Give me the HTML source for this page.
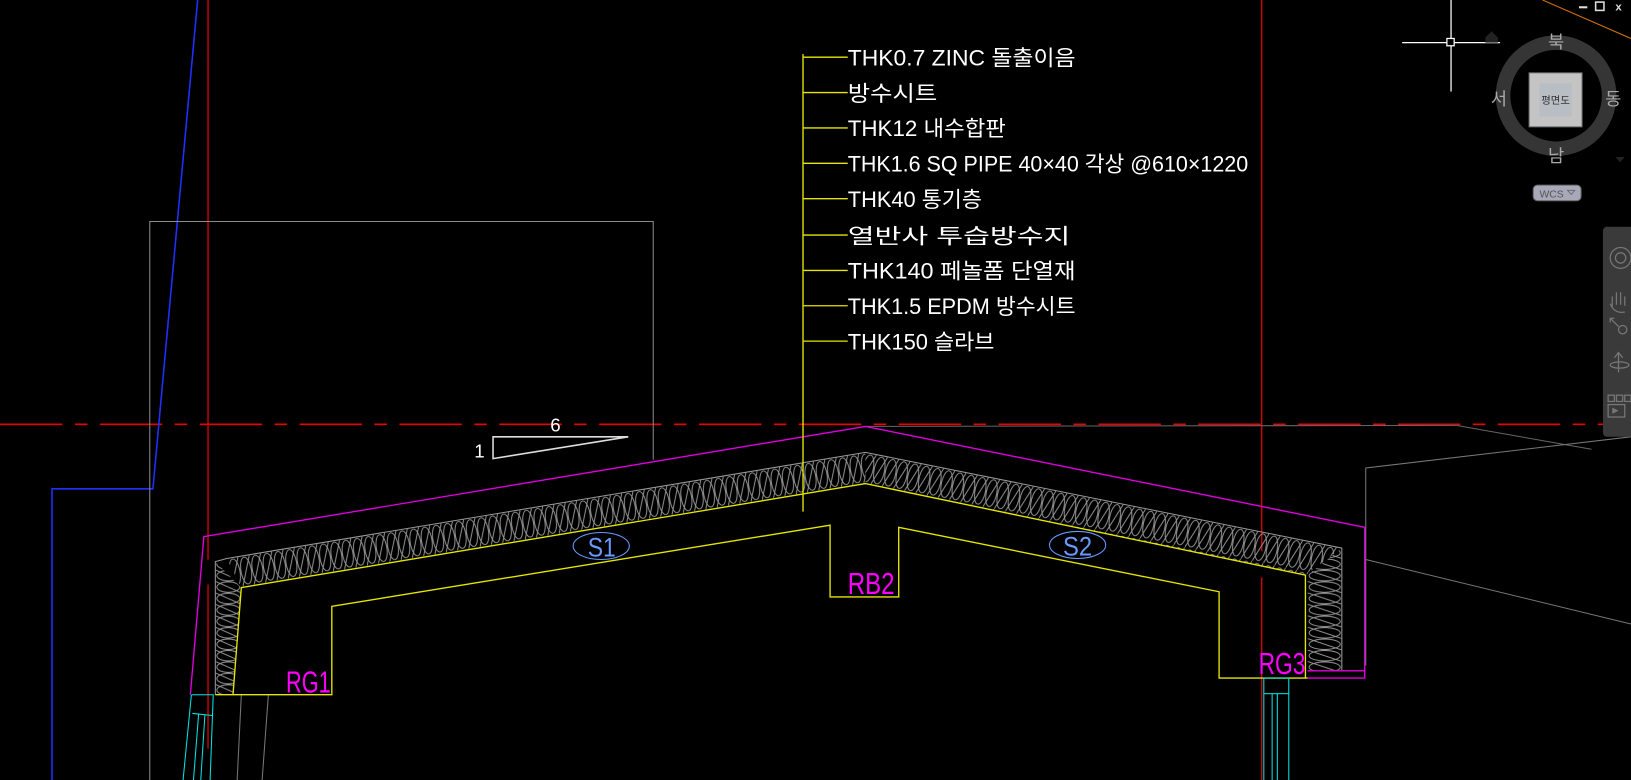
<!DOCTYPE html>
<html><head><meta charset="utf-8"><style>
html,body{margin:0;padding:0;background:#000;overflow:hidden}
svg{display:block}
text{font-family:"Liberation Sans","Noto Sans CJK KR",sans-serif}
</style></head><body>
<svg width="1631" height="780" viewBox="0 0 1568 750" preserveAspectRatio="none" xmlns="http://www.w3.org/2000/svg">
<defs>
<pattern id="insL" width="11" height="29" patternUnits="userSpaceOnUse" patternTransform="translate(218,537) rotate(-9.43)">
<g fill="none" stroke="#9a9a9a" stroke-width="0.9"><ellipse cx="5.5" cy="14.5" rx="5" ry="13"/><line x1="0" y1="29" x2="11" y2="0"/></g></pattern>
<pattern id="insR" width="11" height="29" patternUnits="userSpaceOnUse" patternTransform="translate(832,435) rotate(11.36)">
<g fill="none" stroke="#9a9a9a" stroke-width="0.9"><ellipse cx="5.5" cy="14.5" rx="5" ry="13"/><line x1="0" y1="29" x2="11" y2="0"/></g></pattern>
<pattern id="insV" width="25" height="11" patternUnits="userSpaceOnUse" patternTransform="translate(207,537)">
<g fill="none" stroke="#9a9a9a" stroke-width="0.9"><ellipse cx="12.5" cy="5.5" rx="11" ry="5"/><line x1="0" y1="0" x2="25" y2="11"/></g></pattern>
<pattern id="insV2" width="33" height="11" patternUnits="userSpaceOnUse" patternTransform="translate(1257,537)">
<g fill="none" stroke="#9a9a9a" stroke-width="0.9"><ellipse cx="16.5" cy="5.5" rx="15" ry="5"/><line x1="0" y1="0" x2="33" y2="11"/></g></pattern>
</defs>

<!-- red center lines -->
<line x1="0" y1="408" x2="1568" y2="408" stroke="#e00" stroke-width="1.5" stroke-dasharray="60,12,12,12"/>
<line x1="200" y1="0" x2="200" y2="538" stroke="#e00" stroke-width="1.2"/>
<line x1="200" y1="562" x2="200" y2="720" stroke="#e00" stroke-width="1.2"/>
<line x1="1213" y1="0" x2="1213" y2="530" stroke="#e00" stroke-width="1.2"/>
<line x1="1213" y1="555" x2="1213" y2="750" stroke="#e00" stroke-width="1.2"/>

<!-- blue line -->
<polyline points="190,0 147,470 50,470 50,750" fill="none" stroke="#2030ff" stroke-width="1.5"/>

<!-- gray rectangle -->
<polyline points="144,750 144,213 628,213 628,442" fill="none" stroke="#8a8a8a" stroke-width="1"/>
<line x1="832" y1="410" x2="1400" y2="409" stroke="#666" stroke-width="1"/>
<line x1="1400" y1="409" x2="1530" y2="432" stroke="#666" stroke-width="1"/>
<polyline points="1313,640 1313,450 1568,420" fill="none" stroke="#777" stroke-width="1"/>
<line x1="1313" y1="538" x2="1568" y2="600" stroke="#777" stroke-width="1"/>
<line x1="232" y1="668" x2="228" y2="750" stroke="#777" stroke-width="1"/>
<line x1="258" y1="668" x2="252" y2="750" stroke="#777" stroke-width="1"/>

<!-- slope symbol -->
<polygon points="474,420 604,420 474,441" fill="none" stroke="#ddd" stroke-width="1.5"/>
<text x="529" y="415" fill="#fff" font-size="18">6</text>
<text x="456" y="440" fill="#fff" font-size="18">1</text>

<!-- insulation -->
<polygon points="218,537 832,435 832,465 232,565" fill="url(#insL)"/>
<polygon points="832,435 1290,527 1255,553 832,465" fill="url(#insR)"/>
<polygon points="207,540 232,565 224,668 207,668" fill="url(#insV)"/>
<polygon points="1257,553 1290,527 1290,645 1257,645" fill="url(#insV2)"/>
<polyline points="207,668 207,540 218,537 832,435 1290,527 1290,645" fill="none" stroke="#9a9a9a" stroke-width="1"/>

<!-- magenta outline -->
<polyline points="183,668 196,516 832,410 1312,507 1312,652 1257,652" fill="none" stroke="#e000e0" stroke-width="1.3"/>
<line x1="1257" y1="645" x2="1312" y2="645" stroke="#e000e0" stroke-width="1.3"/>

<!-- yellow slab -->
<polyline points="224,668 232,565 832,465 1255,553 1255,652" fill="none" stroke="#e6e600" stroke-width="1.3"/>
<polyline points="207,668 319,668 319,583 798,505 798,574 864,574 864,507 1172,569 1172,652 1257,652" fill="none" stroke="#e6e600" stroke-width="1.3"/>

<!-- labels -->
<text x="275" y="666" fill="#f0f" font-size="29" textLength="43" lengthAdjust="spacingAndGlyphs">RG1</text>
<text x="815" y="571" fill="#f0f" font-size="29" textLength="45" lengthAdjust="spacingAndGlyphs">RB2</text>
<text x="1210" y="648" fill="#f0f" font-size="29" textLength="45" lengthAdjust="spacingAndGlyphs">RG3</text>
<ellipse cx="578" cy="525" rx="27" ry="13" fill="none" stroke="#6a9aff" stroke-width="1"/>
<text x="565" y="535" fill="#6a9aff" font-size="26" textLength="27" lengthAdjust="spacingAndGlyphs">S1</text>
<ellipse cx="1036" cy="524" rx="27" ry="13" fill="none" stroke="#6a9aff" stroke-width="1"/>
<text x="1022" y="534" fill="#6a9aff" font-size="26" textLength="28" lengthAdjust="spacingAndGlyphs">S2</text>

<!-- cyan windows -->
<g fill="none" stroke="#00e5e5" stroke-width="1">
<polyline points="184,668 205,668 202,750"/><line x1="184" y1="668" x2="176" y2="750"/>
<line x1="185" y1="686" x2="204" y2="688"/><line x1="191" y1="686" x2="186" y2="750"/><line x1="197" y1="687" x2="193" y2="750"/>
<rect x="1215" y="652" width="24" height="15"/><line x1="1215" y1="667" x2="1215" y2="750"/><line x1="1239" y1="667" x2="1239" y2="750"/>
<line x1="1223" y1="667" x2="1223" y2="750"/><line x1="1228" y1="667" x2="1228" y2="750"/>
</g>

<!-- leader -->
<g stroke="#e6e600" stroke-width="1.3">
<line x1="772" y1="52" x2="772" y2="492"/>
<line x1="772" y1="55" x2="815" y2="55"/><line x1="772" y1="89" x2="815" y2="89"/>
<line x1="772" y1="123" x2="815" y2="123"/><line x1="772" y1="157" x2="815" y2="157"/>
<line x1="772" y1="191" x2="815" y2="191"/><line x1="772" y1="226" x2="815" y2="226"/>
<line x1="772" y1="260" x2="815" y2="260"/><line x1="772" y1="294" x2="815" y2="294"/>
<line x1="772" y1="328" x2="815" y2="328"/>
</g>
<g fill="#fff" font-size="21">
<text x="815" y="63" textLength="219" lengthAdjust="spacingAndGlyphs">THK0.7 ZINC 돌출이음</text>
<text x="815" y="97" textLength="86" lengthAdjust="spacingAndGlyphs">방수시트</text>
<text x="815" y="131" textLength="152" lengthAdjust="spacingAndGlyphs">THK12 내수합판</text>
<text x="815" y="165" textLength="385" lengthAdjust="spacingAndGlyphs">THK1.6 SQ PIPE 40×40 각상 @610×1220</text>
<text x="815" y="199" textLength="129" lengthAdjust="spacingAndGlyphs">THK40 통기층</text>
<text x="815" y="234" font-size="20" textLength="214" lengthAdjust="spacingAndGlyphs">열반사 투습방수지</text>
<text x="815" y="268" textLength="219" lengthAdjust="spacingAndGlyphs">THK140 페놀폼 단열재</text>
<text x="815" y="302" textLength="219" lengthAdjust="spacingAndGlyphs">THK1.5 EPDM 방수시트</text>
<text x="815" y="336" textLength="141" lengthAdjust="spacingAndGlyphs">THK150 슬라브</text>
</g>

<!-- crosshair -->
<line x1="1348" y1="41" x2="1442" y2="41" stroke="#fff" stroke-width="1.2"/>
<line x1="1395" y1="0" x2="1395" y2="88" stroke="#fff" stroke-width="1.2"/>
<rect x="1391" y="37" width="7" height="7" fill="#000" stroke="#fff" stroke-width="1.2"/>
<line x1="1483" y1="0" x2="1568" y2="37" stroke="#d07010" stroke-width="1"/>

<!-- window buttons -->
<rect x="1518" y="6" width="8" height="2" fill="#ddd"/>
<rect x="1534" y="2" width="8" height="8" fill="none" stroke="#ddd" stroke-width="1.5"/>
<text x="1553" y="10" fill="#ddd" font-size="11" font-weight="bold">x</text>

<!-- nav ring -->
<path d="M1428,36 l6,-6 l6,6 v5 h-12z" fill="#222"/>
<circle cx="1496" cy="92" r="51" fill="none" stroke="#353535" stroke-width="14"/>
<rect x="1470" y="70" width="51" height="52" fill="#c4c4c4" stroke="#666"/>
<rect x="1480" y="80" width="31" height="32" fill="#b8bec4"/>
<text x="1495.5" y="100" fill="#333" font-size="10" text-anchor="middle">평면도</text>
<g fill="#aaa" font-size="17" text-anchor="middle">
<text x="1496" y="46">북</text><text x="1441" y="101">서</text><text x="1551" y="101">동</text><text x="1496" y="156">남</text>
</g>
<path d="M1553,151 l9,0 l-4.5,5z" fill="#222"/>
<rect x="1474" y="178" width="46" height="15" rx="4" fill="#a8a8b8" stroke="#666"/>
<text x="1480" y="190" fill="#555" font-size="10">WCS</text>
<path d="M1507,183 l7,0 l-3.5,4z" fill="none" stroke="#666" stroke-width="0.8"/>

<!-- right toolbar -->
<rect x="1541" y="218" width="30" height="202" rx="4" fill="#3a3a3a"/>
<g fill="none" stroke="#777" stroke-width="1.2">
<circle cx="1558" cy="248" r="10"/><circle cx="1558" cy="248" r="5"/>
<path d="M1550,295 v-10 M1554,293 v-12 M1558,293 v-12 M1562,294 v-9 M1548,292 q4,10 14,8"/>
<path d="M1548,306 l8,8 M1548,306 v4 M1548,306 h4"/><circle cx="1560" cy="317" r="4"/>
<path d="M1556,340 v18 M1552,344 l4,-5 l4,5"/><ellipse cx="1557" cy="351" rx="9" ry="3"/>
<rect x="1546" y="380" width="6" height="6"/><rect x="1554" y="380" width="6" height="6"/><rect x="1562" y="380" width="6" height="6"/>
<rect x="1546" y="389" width="16" height="12"/>
</g>
<path d="M1550,392 l6,3 l-6,3z" fill="#777"/>
</svg>
</body></html>
